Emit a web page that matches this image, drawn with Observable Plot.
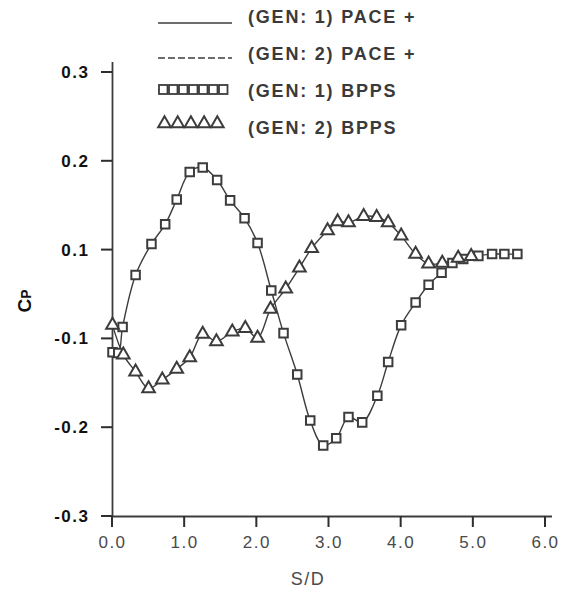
<!DOCTYPE html>
<html><head><meta charset="utf-8">
<script src="https://cdn.jsdelivr.net/npm/d3@7"></script>
<script src="https://cdn.jsdelivr.net/npm/@observablehq/plot@0.6"></script>
<style>
body{margin:0;background:#fff;font-family:"Liberation Sans",Arial,sans-serif;}
#wrap{position:relative;width:566px;height:594px;overflow:hidden;}
.lt{position:absolute;left:248px;font-size:18px;line-height:22px;font-weight:bold;color:#3a3a3a;letter-spacing:1.8px;white-space:nowrap;}
#cp{position:absolute;left:25px;top:301px;transform:translate(-50%,-50%) rotate(-90deg);font-size:19px;font-weight:bold;color:#111;white-space:nowrap;}
</style></head><body><div id="wrap"></div>
<script>
// GEN 1 (squares / solid line)
const sd1 = [0.00, 0.08, 0.14, 0.32, 0.54, 0.73, 0.89, 1.07, 1.25, 1.45, 1.63, 1.83, 2.01, 2.20, 2.37, 2.56, 2.74, 2.92, 3.10, 3.27, 3.46, 3.67, 3.82, 4.00, 4.20, 4.38, 4.56, 4.71, 4.86, 5.07, 5.26, 5.43, 5.61];
const cp1 = [-0.115, -0.116, -0.073, 0.044, 0.107, 0.129, 0.157, 0.188, 0.193, 0.179, 0.156, 0.136, 0.108, 0.009, -0.087, -0.140, -0.192, -0.220, -0.212, -0.188, -0.194, -0.164, -0.126, -0.069, -0.018, 0.022, 0.049, 0.071, 0.080, 0.087, 0.091, 0.091, 0.091];
// GEN 2 (triangles)
const sd2 = [0.00, 0.15, 0.32, 0.50, 0.69, 0.89, 1.07, 1.25, 1.44, 1.66, 1.84, 2.01, 2.19, 2.40, 2.59, 2.76, 2.98, 3.12, 3.27, 3.48, 3.66, 3.82, 4.00, 4.20, 4.38, 4.57, 4.79, 4.97];
const cp2 = [-0.069, -0.118, -0.137, -0.156, -0.146, -0.134, -0.121, -0.089, -0.103, -0.084, -0.076, -0.098, -0.033, 0.013, 0.060, 0.102, 0.122, 0.132, 0.131, 0.138, 0.137, 0.131, 0.116, 0.091, 0.069, 0.071, 0.082, 0.086];

const yTicks = [0.3, 0.2, 0.1, -0.1, -0.2, -0.3];
const yTickLabels = ["0.3", "0.2", "0.1", "-0.1", "-0.2", "-0.3"];
const xTicks = [0, 1, 2, 3, 4, 5, 6];
const xTickLabels = ["0.0", "1.0", "2.0", "3.0", "4.0", "5.0", "6.0"];
const seriesNames = ["(GEN: 1) PACE +", "(GEN: 2) PACE +", "(GEN: 1) BPPS", "(GEN: 2) BPPS"];
const xLabel = "S/D";

const ink = "#3c3c3c";
const gen1 = sd1.map((x, i) => ({x, y: cp1[i]}));
const gen2 = sd2.map((x, i) => ({x, y: cp2[i]}));

const W = 566, H = 594, mL = 112, mR = 21, mT = 72, mB = 78;
// the printed axis labels are evenly spaced (no 0.0), so use a piecewise scale
const yDomain = [-0.3, -0.2, -0.1, 0.1, 0.2, 0.3];
const yRange = yDomain.map((_, i) => (H - mB) - i * ((H - mB - mT) / (yDomain.length - 1)));
const xs = d3.scaleLinear([0, 6], [mL, W - mR]);
const ys = d3.scaleLinear(yDomain, yRange);

const plot = Plot.plot({
  width: W, height: H,
  marginLeft: mL, marginRight: mR, marginTop: mT, marginBottom: mB,
  style: {background: "transparent", fontFamily: "'Liberation Sans', Arial, sans-serif", overflow: "visible"},
  x: {domain: [0, 6]},
  y: {type: "linear", domain: yDomain, range: yRange},
  marks: [
    Plot.axisY({ticks: yTicks, tickFormat: d => yTickLabels[yTicks.indexOf(d)], tickSize: 0, tickPadding: 23,
      fontSize: 17, fontWeight: "bold", fill: "#111", label: null}),
    Plot.axisX({ticks: xTicks, tickFormat: d => xTickLabels[xTicks.indexOf(d)], tickSize: 0, tickPadding: 19,
      fontSize: 17, fill: "#4a4a4a", label: null}),
    Plot.ruleX([0], {y1: -0.3, y2: ys.invert(mT - 10), stroke: ink, strokeWidth: 1.8}),
    Plot.ruleY([-0.3], {x1: 0, x2: xs.invert(W - mR + 7), stroke: ink, strokeWidth: 1.8}),
    Plot.text([xLabel], {text: d => d, frameAnchor: "bottom", dx: -21, dy: 68, fontSize: 18, fill: "#4a4a4a"}),
    Plot.line(gen1, {x: "x", y: "y", curve: "catmull-rom", stroke: ink, strokeWidth: 1.4}),
    Plot.line(gen2, {x: "x", y: "y", curve: "catmull-rom", stroke: ink, strokeWidth: 1.4}),
    Plot.dot(gen1, {x: "x", y: "y", symbol: "square", r: 4.8, stroke: ink, strokeWidth: 2, fill: "white"}),
    Plot.dot(gen2, {x: "x", y: "y", symbol: "triangle", r: 4.7, stroke: ink, strokeWidth: 2, fill: "white"})
  ]
});
plot.style.letterSpacing = "1.5px";
plot.style.position = "absolute";
plot.style.left = "0px";
plot.style.top = "0px";
const wrap = document.getElementById("wrap");
wrap.appendChild(plot);

// Tick marks as small filled rectangles, placed with the same scale definition as the plot
const tk = d3.create("svg").attr("width", W).attr("height", H)
  .style("position", "absolute").style("left", "0px").style("top", "0px").style("pointer-events", "none");
const x0 = xs(0), yBase = ys(-0.3);
yTicks.forEach(v => {
  tk.append("rect").attr("x", x0 - 11).attr("y", ys(v) - 1).attr("width", 11).attr("height", 2)
    .attr("fill", "#2e2e2e");
});
xTicks.forEach(v => {
  tk.append("rect").attr("x", xs(v) - 1).attr("y", yBase).attr("width", 2).attr("height", 11)
    .attr("fill", "#2e2e2e");
});
wrap.appendChild(tk.node());

// Legend overlay
const tops = [6, 43, 79.5, 117];
seriesNames.forEach((name, i) => {
  const d = document.createElement("div");
  d.className = "lt";
  d.style.top = tops[i] + "px";
  d.textContent = name;
  wrap.appendChild(d);
});
const lg = d3.create("svg").attr("width", 100).attr("height", 140)
  .style("position", "absolute").style("left", "150px").style("top", "0px");
const ox = 8;
lg.append("line").attr("x1", ox).attr("x2", ox + 74).attr("y1", 23).attr("y2", 23).attr("stroke", ink).attr("stroke-width", 1.5);
lg.append("line").attr("x1", ox).attr("x2", ox + 74).attr("y1", 58).attr("y2", 58).attr("stroke", ink).attr("stroke-width", 1.5).attr("stroke-dasharray", "7,3");
lg.append("line").attr("x1", ox).attr("x2", ox + 70).attr("y1", 89.5).attr("y2", 89.5).attr("stroke", ink).attr("stroke-width", 1.3);
for (let k = 0; k < 7; k++) {
  lg.append("rect").attr("x", ox + k * 10 + 1).attr("y", 85).attr("width", 8.5).attr("height", 9)
    .attr("fill", "white").attr("stroke", ink).attr("stroke-width", 1.8);
}
const tri = d3.symbol(d3.symbolTriangle, Math.PI * 4.7 * 4.7)();
for (let k = 0; k < 5; k++) {
  lg.append("path").attr("d", tri).attr("transform", `translate(${ox + 6.5 + k * 13.2},123.5)`)
    .attr("fill", "white").attr("stroke", ink).attr("stroke-width", 2);
}
wrap.appendChild(lg.node());

const cp = document.createElement("div");
cp.id = "cp";
cp.innerHTML = "C<span style=\"font-size:14px\">P</span>";
wrap.appendChild(cp);
</script>
</body></html>
